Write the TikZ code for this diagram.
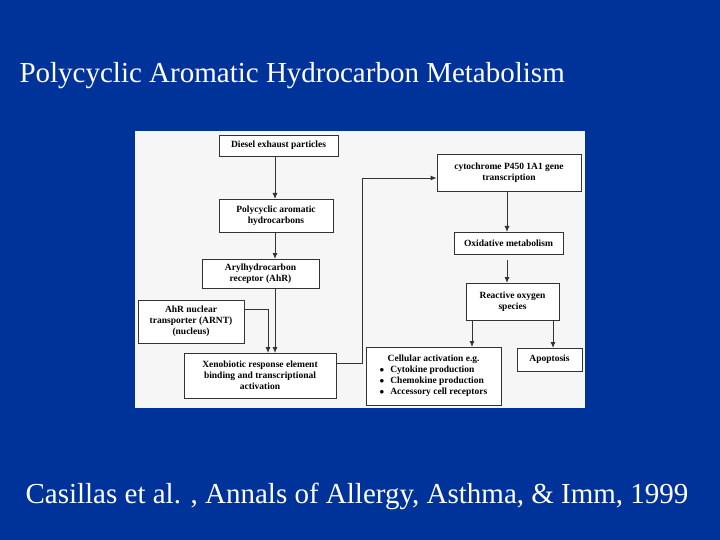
\documentclass[tikz,border=0pt]{standalone}
\usepackage{fontspec}
\setmainfont{Liberation Serif}
\begin{document}
\begin{tikzpicture}[x=1pt,y=-1pt,
 bx/.style={draw=black!80,line width=0.7pt,fill=white,inner sep=1pt,align=center,font=\bfseries\fontsize{9.5}{11}\selectfont},
 ar/.style={draw=black!80,line width=0.9pt,-{Latex[length=6pt,width=5pt]}}]
\usetikzlibrary{arrows.meta}
\fill[fill={rgb,255:red,0;green,51;blue,153}] (0,0) rectangle (720,540);
\useasboundingbox (0,0) rectangle (720,540);
\fill[gray!7] (135,131) rectangle (585,408);
\node[anchor=west,text=white,font=\fontsize{29}{32}\selectfont] (title) at (16,76) {Polycyclic Aromatic Hydrocarbon Metabolism};
\node[anchor=west,text=white,font=\fontsize{29}{32}\selectfont] (cite) at (22,496) {Casillas et al. , Annals of Allergy, Asthma, \& Imm, 1999};
\newcommand{\bxat}[6]{\node[bx,minimum width=#4-#2,minimum height=#5-#3] (#1) at ({(#2+#4)/2},{(#3+#5)/2}) {#6};}
\bxat{dep}{219}{135}{338}{156}{Diesel exhaust particles}
\bxat{pah}{219}{199}{333}{232}{Polycyclic aromatic\\hydrocarbons}
\bxat{ahr}{202}{259}{319}{288}{Arylhydrocarbon\\receptor (AhR)}
\bxat{arnt}{138}{300}{244}{343}{AhR nuclear\\transporter (ARNT)\\(nucleus)}
\bxat{xre}{184}{353}{336}{398}{Xenobiotic response element\\binding and transcriptional\\activation}
\bxat{cyp}{437}{154}{581}{191}{cytochrome P450 1A1 gene\\transcription}
\bxat{oxm}{454}{232}{563}{254}{Oxidative metabolism}
\bxat{ros}{466}{283}{559}{320}{Reactive oxygen\\species}
\node[bx,minimum width=135,minimum height=58,align=left] (cell) at (433.5,376) {\hspace*{8pt}Cellular activation e.g.\\$\bullet$\hspace{6pt}Cytokine production\\$\bullet$\hspace{6pt}Chemokine production\\$\bullet$\hspace{6pt}Accessory cell receptors};
\bxat{apo}{517}{348}{582}{371}{Apoptosis}
\coordinate (c1) at (362,363);
\coordinate (c2) at (362,178);
\draw[ar] (275,156) -- (275,199);
\draw[ar] (275,232) -- (275,259);
\draw[ar] (275,288) -- (275,353);
\draw[ar] (arnt.east |- 0,309) -| (268,353);
\draw[ar] (xre.east |- c1) -- (c1) -- (c2) -- (cyp.west |- c2);
\draw[ar] (507,191) -- (507,232);
\draw[ar] (507,260) -- (507,283);
\draw[ar] (472,320) -- (472,347);
\draw[ar] (553,320) -- (553,348);
\end{tikzpicture}
\end{document}
